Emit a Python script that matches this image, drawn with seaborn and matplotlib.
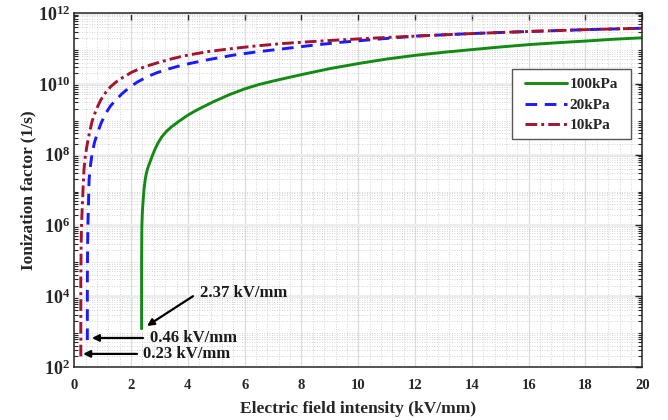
import numpy as np
import pandas as pd
import matplotlib
matplotlib.use("Agg")
import matplotlib.pyplot as plt
from matplotlib.patches import Rectangle
from matplotlib.ticker import MultipleLocator, LogLocator, NullFormatter, FixedLocator
import seaborn as sns

# ---- data (E in kV/mm, log10 of ionization factor in 1/s) ----
e_100k = [2.37, 2.37, 2.38, 2.40, 2.43, 2.46, 2.49, 2.52, 2.56, 2.60, 2.67, 2.75, 2.84, 2.95, 3.08, 3.25, 3.43, 3.70,
          4.01, 4.25, 4.49, 4.89, 5.48, 6.01, 6.50, 7.01, 7.50, 8.06, 9.00, 10.06, 11.0, 12.06, 13.0, 14.05, 15.0,
          16.05, 17.0, 18.04, 19.0, 20.0]
lg_100k = [3.08, 5.0, 6.0, 6.42, 6.78, 7.05, 7.25, 7.40, 7.54, 7.65, 7.80, 7.97, 8.15, 8.33, 8.50, 8.66, 8.79, 8.95,
           9.12, 9.23, 9.33, 9.49, 9.70, 9.86, 9.98, 10.08, 10.17, 10.27, 10.43, 10.58, 10.70, 10.81, 10.89, 10.97,
           11.04, 11.11, 11.16, 11.21, 11.26, 11.30]

e_20k = [0.46, 0.46, 0.47, 0.48, 0.50, 0.52, 0.57, 0.63, 0.71, 0.81, 0.95, 1.11, 1.28, 1.46, 1.68, 1.93, 2.22, 2.57,
         2.90, 3.27, 3.86, 4.70, 5.60, 6.40, 7.36, 8.30, 9.35, 10.5, 12.06, 14.0, 16.05, 18.0, 20.0]
lg_20k = [2.76, 4.5, 5.5, 6.0, 6.6, 7.28, 7.70, 8.04, 8.34, 8.60, 8.90, 9.17, 9.38, 9.54, 9.72, 9.89, 10.05, 10.20,
          10.31, 10.41, 10.54, 10.68, 10.81, 10.90, 10.99, 11.08, 11.17, 11.25, 11.35, 11.42, 11.48, 11.53, 11.57]

e_10k = [0.23, 0.23, 0.24, 0.25, 0.26, 0.28, 0.31, 0.34, 0.39, 0.46, 0.54, 0.63, 0.77, 0.93, 1.10, 1.28, 1.50, 1.75,
         2.03, 2.34, 2.67, 3.04, 3.45, 3.86, 4.70, 5.60, 6.40, 7.36, 8.30, 9.35, 10.5, 12.06, 14.0, 16.05, 18.0, 20.0]
lg_10k = [2.30, 4.5, 5.3, 5.8, 6.1, 6.5, 7.05, 7.56, 7.98, 8.31, 8.64, 8.95, 9.27, 9.54, 9.75, 9.92, 10.07, 10.20,
          10.33, 10.44, 10.53, 10.62, 10.71, 10.79, 10.91, 11.00, 11.07, 11.14, 11.19, 11.24, 11.29, 11.35, 11.42,
          11.48, 11.53, 11.57]

series_names = ["100kPa", "20kPa", "10kPa"]
series_colors = ["#138a13", "#1a1aff", "#a2142f"]

x_ticks = [0, 2, 4, 6, 8, 10, 12, 14, 16, 18, 20]
y_tick_exps = [2, 4, 6, 8, 10, 12]

annotations = [
    ("2.37 kV/mm", (2.56, 10**3.16), (4.18, 10**4.00), (4.43, 10**4.09)),
    ("0.46 kV/mm", (0.62, 10**2.82), (2.42, 10**2.82), (2.67, 10**2.82)),
    ("0.23 kV/mm", (0.31, 10**2.37), (2.21, 10**2.37), (2.42, 10**2.37)),
]

# ---- styling ----
sns.set_theme(style="white")
plt.rcParams["font.family"] = ["Liberation Serif", "DejaVu Serif"]
plt.rcParams["font.weight"] = "bold"
plt.rcParams["mathtext.fontset"] = "custom"
plt.rcParams["mathtext.rm"] = "Liberation Serif:bold"
plt.rcParams["mathtext.bf"] = "Liberation Serif:bold"
plt.rcParams["mathtext.it"] = "Liberation Serif:bold"

fig = plt.figure(figsize=(6.68, 4.20), dpi=100)
ax = fig.add_axes([0.1112, 0.1262, 0.8503, 0.8428])

frames = [
    pd.DataFrame({"E": e_100k, "K": np.power(10.0, lg_100k)}),
    pd.DataFrame({"E": e_20k, "K": np.power(10.0, lg_20k)}),
    pd.DataFrame({"E": e_10k, "K": np.power(10.0, lg_10k)}),
]
dash_styles = [(None, None), (4.0, 2.6), (4.0, 1.4, 1.0, 1.4)]
handles = []
for df, name, col, ds in zip(frames, series_names, series_colors, dash_styles):
    sns.lineplot(data=df, x="E", y="K", ax=ax, color=col, linewidth=2.1, sort=False, estimator=None)
    ln = ax.lines[-1]
    if ds[0] is not None:
        ln.set_dashes(ds)
    ln.set_label(name)
    handles.append(ln)

ax.set_yscale("log")
ax.set_xlim(0, 20)
ax.set_ylim(1e2, 1e12)

# grid
ax.xaxis.set_major_locator(FixedLocator(x_ticks))
ax.xaxis.set_minor_locator(MultipleLocator(0.4))
ax.yaxis.set_major_locator(LogLocator(base=10, numticks=20))
ax.yaxis.set_minor_locator(LogLocator(base=10, subs=np.arange(2, 10), numticks=20))
ax.yaxis.set_minor_formatter(NullFormatter())
ax.grid(which="major", axis="x", color="#dcdcdc", linewidth=0.9, linestyle="-")
ax.grid(which="major", axis="y", color="#ececec", linewidth=2.0, linestyle="-")
ax.grid(which="minor", color="#c8c8c8", linewidth=0.6, linestyle=(0, (1, 2)))
ax.set_axisbelow(True)

ax.set_xticks(x_ticks)
ax.set_xticklabels([str(t) for t in x_ticks], fontsize=10.5, fontweight="bold")
ax.set_yticks([10.0**e for e in y_tick_exps])
ax.set_yticklabels([r"$10^{%d}$" % e for e in y_tick_exps], fontsize=13)

ax.tick_params(which="major", direction="in", length=5, width=1.0, top=True, right=True,
               colors="#262626", labelcolor="#262626")
ax.tick_params(axis="x", which="major", pad=9)
ax.tick_params(axis="y", which="major", pad=3)
ax.tick_params(axis="y", which="minor", direction="in", length=3, width=0.8, left=True, right=True, color="#262626")
ax.tick_params(axis="x", which="minor", length=0)

for sp in ax.spines.values():
    sp.set_color("#262626")
    sp.set_linewidth(1.1)

ax.set_xlabel("Electric field intensity (kV/mm)", fontsize=12.5, fontweight="bold", color="#262626", labelpad=6)
ax.set_ylabel("Ionization factor (1/s)", fontsize=12.5, fontweight="bold", color="#262626", labelpad=1)

for text, head, tail, tpos in annotations:
    ax.annotate("", xy=head, xytext=tail,
                arrowprops=dict(arrowstyle="-|>", color="black", lw=1.6, mutation_scale=10, shrinkA=0, shrinkB=0))
    ax.text(tpos[0], tpos[1], text, fontsize=12, fontweight="bold", va="center", ha="left", color="#1a1a1a")

# legend box (drawn as a plain rectangle) and entries
box = Rectangle((0.771, 0.643), 0.210, 0.199, transform=ax.transAxes, facecolor="white",
                edgecolor="#555555", linewidth=1.0, zorder=4)
ax.add_patch(box)
leg = ax.legend(handles=handles, labels=series_names, loc="upper left", bbox_to_anchor=(0.793, 0.8175),
                borderaxespad=0, borderpad=0, fontsize=11, frameon=False,
                handlelength=2.75, handletextpad=0.2, labelspacing=0.45)
leg.set_zorder(5)
for t in leg.get_texts():
    t.set_fontweight("bold")

fig.savefig("out.png", dpi=100)
